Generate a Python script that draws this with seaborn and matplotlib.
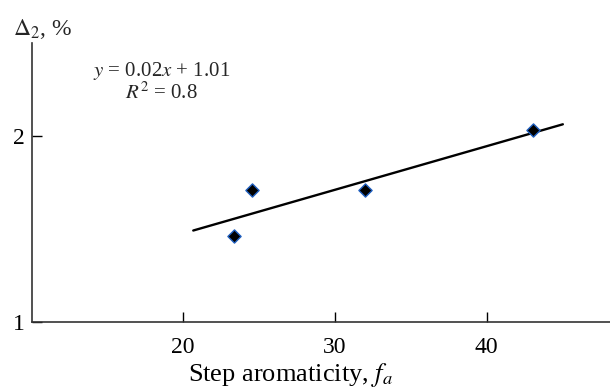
import numpy as np
import pandas as pd
import matplotlib
matplotlib.use("Agg")
import matplotlib.pyplot as plt
import seaborn as sns

# Data
aromaticity = [23.4, 24.55, 31.97, 43.05]
delta2 = [1.46, 1.71, 1.71, 2.03]
fit_range = [20.7, 45.0]
x_ticks = [20, 30, 40]
y_ticks = [1, 2]

sns.set_theme(style="ticks")
plt.rcParams["font.family"] = ["Liberation Serif", "DejaVu Serif"]
plt.rcParams["mathtext.fontset"] = "stix"

df = pd.DataFrame({"x": aromaticity, "y": delta2})
slope, intercept = np.polyfit(df["x"], df["y"], 1)
fit_x = np.array(fit_range)
fit_df = pd.DataFrame({"x": fit_x, "y": slope * fit_x + intercept})

fig = plt.figure(figsize=(6.10, 3.89), dpi=100)
ax = fig.add_axes([0.0525, 0.173, 0.9475, 0.716])

sns.lineplot(data=fit_df, x="x", y="y", ax=ax, color="black", linewidth=1.7)
sns.scatterplot(data=df, x="x", y="y", ax=ax, marker="D", s=45,
                color="black", edgecolor="#1f5fbf", linewidth=1.0, zorder=3)

ax.set_xlim(10.1, 48.1)
ax.set_ylim(1, 2.5)
ax.set_xticks(x_ticks)
ax.set_yticks(y_ticks)
ax.set_xticklabels([str(t) for t in x_ticks])
ax.set_yticklabels([str(t) for t in y_ticks])
ax.tick_params(axis="both", direction="in", length=7, width=1.0,
               labelsize=17, colors="black")
ax.tick_params(axis="x", pad=11)
ax.tick_params(axis="y", pad=5)

for s in ["top", "right"]:
    ax.spines[s].set_visible(False)
for s in ["left", "bottom"]:
    ax.spines[s].set_color("#333333")
    ax.spines[s].set_linewidth(1.2)

ax.set_xlabel("Step aromaticity, $f_a$", fontsize=19, color="black")
ax.xaxis.set_label_coords(0.448, -0.19)
ax.xaxis.label.set_va("center")
ax.set_ylabel("")
fig.text(0.021, 0.925, r"$\Delta_2$, %", fontsize=17, ha="left", va="center")
fig.text(0.265, 0.818, r"$y$ = 0.02$x$ + 1.01", fontsize=15, ha="center", va="center")
fig.text(0.265, 0.76, r"$R^2$ = 0.8", fontsize=15, ha="center", va="center")

fig.savefig("out.png", dpi=100)
